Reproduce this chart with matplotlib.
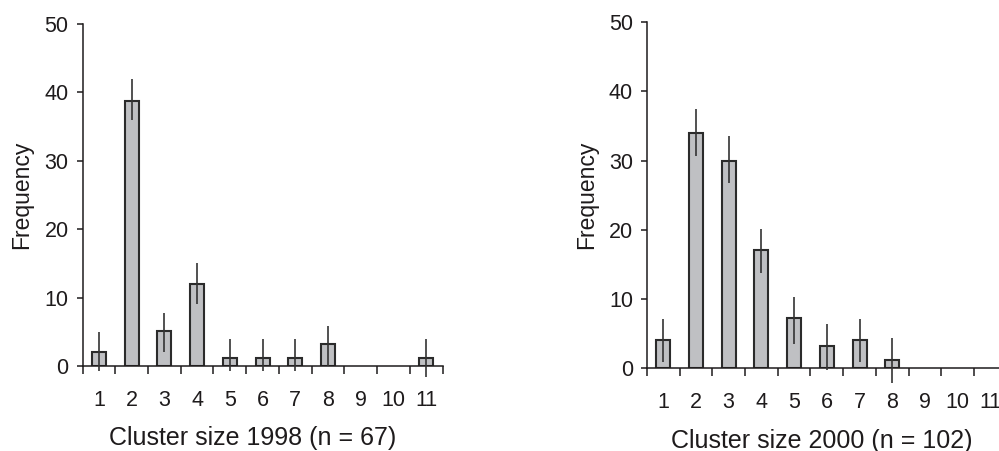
import numpy as np
import matplotlib
matplotlib.use("Agg")
import matplotlib.pyplot as plt

plt.rcParams['font.family'] = ['Liberation Sans', 'DejaVu Sans']

# cluster sizes on the x axis
sizes = np.arange(1, 12)
size_labels = [str(s) for s in sizes]

# 1998 (n = 67)
freq_1998 = [2.0, 38.8, 5.1, 12.0, 1.2, 1.2, 1.2, 3.2, 0, 0, 1.2]
hi_1998 = [5.0, 42.0, 7.8, 15.0, 3.9, 3.9, 3.9, 5.9, 0, 0, 3.9]
lo_1998 = [-0.8, 36.0, 2.0, 9.1, -0.7, -0.7, -0.7, 0.0, 0, 0, -1.6]

# 2000 (n = 102)
freq_2000 = [4.0, 34.0, 30.0, 17.0, 7.2, 3.2, 4.0, 1.2, 0, 0, 0]
hi_2000 = [7.1, 37.4, 33.5, 20.1, 10.2, 6.3, 7.1, 4.3, 0, 0, 0]
lo_2000 = [0.8, 30.7, 26.8, 13.8, 3.5, -0.3, 0.8, -2.2, 0, 0, 0]

ink = '#1e1b1c'
fill = '#bfc0c3'

fig = plt.figure(figsize=(9.99, 4.51), dpi=100)
ax1 = fig.add_axes([0.0826, 0.1885, 0.3605, 0.7583])
ax2 = fig.add_axes([0.6475, 0.184, 0.3603, 0.7666])


def panel(ax, freq, lo, hi, xlabel, xlab_x):
    freq = np.array(freq)
    lo = np.array(lo)
    hi = np.array(hi)
    m = freq > 0  # empty classes get no bar
    ax.bar(sizes[m], freq[m], width=0.43, color=fill, edgecolor='#2b2b2b',
           linewidth=1.5, zorder=2)
    ax.errorbar(sizes[m], freq[m], yerr=[freq[m] - lo[m], hi[m] - freq[m]],
                fmt='none', ecolor='#333333', elinewidth=1.2, capsize=0,
                zorder=3, clip_on=False)
    ax.set_xlim(0.5, 11.5)
    ax.set_ylim(0, 50)
    for s in ['top', 'right']:
        ax.spines[s].set_visible(False)
    for s in ['left', 'bottom']:
        ax.spines[s].set_linewidth(1.1)
        ax.spines[s].set_color(ink)
    # ticks at category boundaries, labels at centres
    ax.set_xticks(np.arange(0.5, 12, 1))
    ax.set_xticklabels([])
    ax.tick_params(axis='x', which='major', direction='out', length=6,
                   width=1.1, color=ink)
    ax.set_xticks(sizes, minor=True)
    ax.set_xticklabels(size_labels, minor=True)
    ax.tick_params(axis='x', which='minor', length=0, pad=17,
                   labelsize=15.5, labelcolor=ink)
    ax.set_yticks([0, 10, 20, 30, 40, 50])
    ax.tick_params(axis='y', direction='out', length=4, width=1.1,
                   color=ink, pad=6, labelsize=15.5, labelcolor=ink)
    ax.set_ylabel('Frequency', fontsize=16.5, color=ink, labelpad=8)
    ax.set_xlabel(xlabel, fontsize=18, color=ink)
    ax.xaxis.set_label_coords(xlab_x, -0.175)


panel(ax1, freq_1998, lo_1998, hi_1998, 'Cluster size 1998 (n = 67)', 0.473)
panel(ax2, freq_2000, lo_2000, hi_2000, 'Cluster size 2000 (n = 102)', 0.486)

fig.savefig('out.png', dpi=100)
